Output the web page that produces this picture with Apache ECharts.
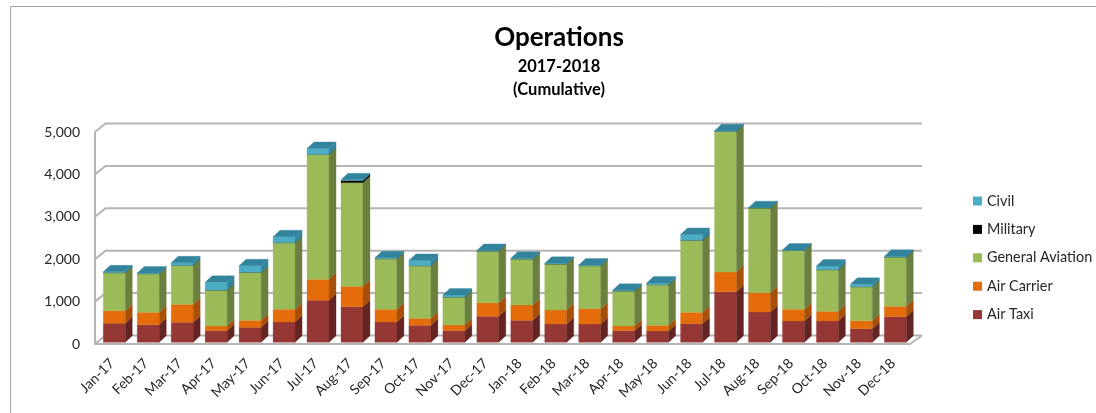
<!DOCTYPE html>
<html>
<head>
<meta charset="utf-8">
<title>Operations</title>
<script src="https://cdn.jsdelivr.net/npm/echarts@6/dist/echarts.min.js"></script>
<style>
  html, body { margin: 0; padding: 0; background: #fff; }
  #main { width: 1096px; height: 413px; }
</style>
</head>
<body>
<div id="main"></div>
<script>
const months = ['Jan-17','Feb-17','Mar-17','Apr-17','May-17','Jun-17','Jul-17','Aug-17','Sep-17','Oct-17','Nov-17','Dec-17',
                'Jan-18','Feb-18','Mar-18','Apr-18','May-18','Jun-18','Jul-18','Aug-18','Sep-18','Oct-18','Nov-18','Dec-18'];
const yTicks = [0, 1000, 2000, 3000, 4000, 5000];

const airTaxi    = [448, 416, 471, 275, 353, 479, 990, 840, 479, 400, 275, 613, 518, 432, 432, 275, 267, 440, 1194, 715, 503, 503, 322, 605];
const airCarrier = [298, 291, 424, 110, 165, 299, 495, 480, 299, 166, 133, 322, 362, 330, 361, 110, 133, 267, 463, 455, 275, 227, 189, 243];
const generalAv  = [896, 911, 920, 848, 1132, 1571, 2945, 2447, 1194, 1241, 660, 1217, 1084, 1084, 1014, 825, 959, 1697, 3320, 1998, 1390, 982, 801, 1163];
const military   = [0, 0, 0, 0, 0, 0, 0, 50, 0, 0, 0, 0, 0, 0, 0, 0, 0, 0, 0, 0, 0, 0, 0, 0];
const civil      = [20, 15, 60, 181, 157, 141, 142, 15, 23, 125, 47, 16, 16, 16, 15, 15, 39, 141, 15, 8, 8, 87, 55, 16];

const names   = ['Air Taxi', 'Air Carrier', 'General Aviation', 'Military', 'Civil'];
const values  = [airTaxi, airCarrier, generalAv, military, civil];
const fronts  = ['#953735', '#e46c0a', '#9bbb59', '#000000', '#4bacc6'];
const sides   = ['#632423', '#a8500a', '#6b803f', '#000000', '#31859c'];
const topFace = '#31849b';

const font = 'Lato, "Open Sans", sans-serif';
const gridColor = '#b5b5b5';

// 3d look: how far the walls and the bars go back, in pixels
const wallDx = 10.5, wallDy = 8.5;
const barDx = 7, barDy = 6.5, barLiftX = 2.3, barLiftY = 1.7;

function poly(points, fill) {
    return { type: 'polygon', shape: { points: points }, style: { fill: fill, stroke: fill, lineWidth: 0.3 } };
}

function renderBar(s) {
    return function (params, api) {
        const bw = api.size([1, 0])[0] * 0.648;
        const a = api.coord([api.value(0), api.value(1)]);
        const b = api.coord([api.value(0), api.value(2)]);
        const x = a[0] - bw / 2 + barLiftX, base = a[1] - barLiftY, top = b[1] - barLiftY;
        const kids = [
            poly([[x, top], [x + bw, top], [x + bw, base], [x, base]], fronts[s]),
            poly([[x + bw, top], [x + bw + barDx, top - barDy], [x + bw + barDx, base - barDy], [x + bw, base]], sides[s])
        ];
        if (s === names.length - 1) {
            kids.push(poly([[x, top], [x + barDx, top - barDy], [x + bw + barDx, top - barDy], [x + bw, top]], topFace));
        }
        return { type: 'group', children: kids };
    };
}

function renderWall(params, api) {
    const p = api.coord([0, api.value(0)]);
    const x0 = params.coordSys.x, x1 = x0 + params.coordSys.width, y = p[1];
    const line = { stroke: gridColor, lineWidth: 2, fill: null };
    const kids = [{
        type: 'polyline',
        shape: { points: [[x0, y], [x0 + wallDx, y - wallDy], [x1 + wallDx + 1.5, y - wallDy]] },
        style: line
    }];
    if (api.value(0) === 0) {
        kids.push({
            type: 'polyline',
            shape: { points: [[x0, y], [x1, y], [x1 + wallDx + 1.5, y - wallDy]] },
            style: line
        });
    }
    return { type: 'group', children: kids };
}

const running = months.map(() => 0);
const barSeries = names.map(function (name, s) {
    const data = values[s].map(function (v, i) {
        const row = [i, running[i], running[i] + v];
        running[i] += v;
        return row;
    });
    return {
        name: name,
        type: 'custom',
        renderItem: renderBar(s),
        encode: { x: 0, y: [1, 2] },
        itemStyle: { color: fronts[s] },
        z: 3 + s,
        data: data
    };
});

const chart = echarts.init(document.getElementById('main'));
chart.setOption({
    animation: false,
    backgroundColor: '#fff',
    title: {
        text: 'Operations',
        subtext: '2017-2018\n(Cumulative)',
        left: 554,
        textAlign: 'center',
        top: 20,
        itemGap: 4,
        textStyle: { fontFamily: font, fontSize: 26, fontWeight: 'bold', color: '#000' },
        subtextStyle: { fontFamily: font, fontSize: 16.5, fontWeight: 'bold', color: '#000', lineHeight: 23 }
    },
    legend: {
        orient: 'vertical',
        left: 973,
        top: 194,
        padding: 0,
        itemWidth: 9,
        itemHeight: 9,
        itemGap: 14.4,
        icon: 'rect',
        data: names.slice().reverse(),
        textStyle: { fontFamily: font, fontSize: 14.4, color: '#262626' }
    },
    grid: { left: 95, right: 186, top: 132, bottom: 69 },
    xAxis: {
        type: 'category',
        data: months,
        axisLine: { show: false },
        axisTick: { show: false },
        axisLabel: { rotate: 45, interval: 0, margin: 17, fontFamily: font, fontSize: 14, color: '#262626' }
    },
    yAxis: {
        type: 'value',
        min: 0,
        max: 5000,
        interval: 1000,
        splitLine: { show: false },
        axisTick: { show: false },
        axisLine: { show: true, lineStyle: { color: gridColor, width: 2 } },
        axisLabel: {
            margin: 15,
            fontFamily: font,
            fontSize: 14,
            color: '#262626',
            formatter: v => v.toLocaleString('en-US')
        }
    },
    graphic: [{
        type: 'polyline',
        shape: { points: [[10.5, 413], [10.5, 6.5], [1096, 6.5]] },
        style: { stroke: '#a6a6a6', lineWidth: 1, fill: null }
    }],
    series: [{
        name: 'wall',
        type: 'custom',
        renderItem: renderWall,
        encode: { y: 0 },
        z: 1,
        data: yTicks.map(v => [v])
    }].concat(barSeries)
});
</script>
</body>
</html>
